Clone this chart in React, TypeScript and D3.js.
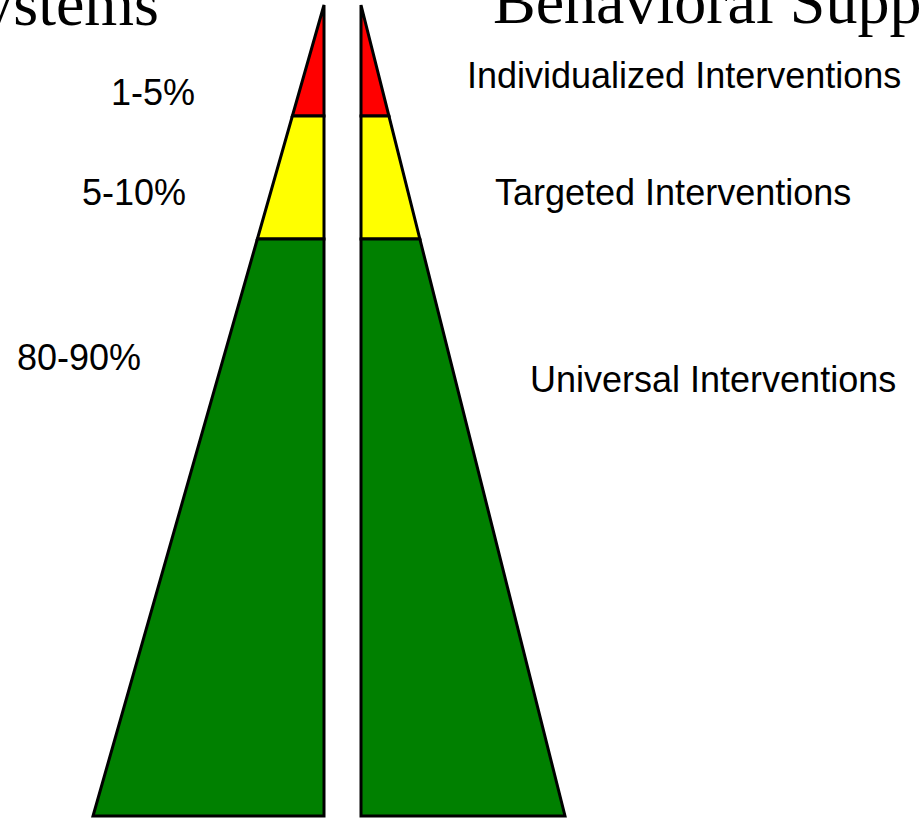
import { scaleLinear, line } from "d3";

const width = 919;
const height = 818;

// tiers from the top of the pyramid down
const tiers = ["Individualized", "Targeted", "Universal"];
const tierColors = ["#ff0000", "#ffff00", "#008000"];
// cumulative depth (0 = apex, 1 = base) at the bottom of each tier
const tierBottoms = [0.137, 0.2885, 1];
const percentLabels = ["1-5%", "5-10%", "80-90%"];
const interventionLabels = [
  "Individualized Interventions",
  "Targeted Interventions",
  "Universal Interventions",
];

const yScale = scaleLinear().domain([0, 1]).range([5, 816]);
// half-widths of the two halves
const leftWidth = scaleLinear().domain([0, 1]).range([0, 231]);
const rightWidth = scaleLinear().domain([0, 1]).range([0, 204]);

const leftEdge = 324;
const rightEdge = 361;

const poly = line<[number, number]>();

const trapezoid = (top: number, bottom: number, side: "left" | "right") => {
  const w = side === "left" ? leftWidth : rightWidth;
  const x0 = side === "left" ? leftEdge : rightEdge;
  const dir = side === "left" ? -1 : 1;
  const pts: [number, number][] = [
    [x0, yScale(top)],
    [x0 + dir * w(top), yScale(top)],
    [x0 + dir * w(bottom), yScale(bottom)],
    [x0, yScale(bottom)],
  ];
  return poly(pts) + "Z";
};

const percentPos = [
  { x: 111, y: 105 },
  { x: 82, y: 205 },
  { x: 17, y: 370 },
];
const labelPos = [
  { x: 467, y: 88 },
  { x: 495, y: 205 },
  { x: 530, y: 392 },
];

const App = () => {
  const tops = [0, ...tierBottoms.slice(0, -1)];
  return (
    <svg
      width={width}
      height={height}
      style={{ position: "fixed", left: 0, top: 0, background: "#fff" }}
    >
      <rect width={width} height={height} fill="#fff" />
      {tiers.map((t, i) => (
        <g key={t}>
          <path
            d={trapezoid(tops[i], tierBottoms[i], "left")}
            fill={tierColors[i]}
            stroke="#000"
            strokeWidth={3}
          />
          <path
            d={trapezoid(tops[i], tierBottoms[i], "right")}
            fill={tierColors[i]}
            stroke="#000"
            strokeWidth={3}
          />
        </g>
      ))}
      <g fontFamily="Liberation Serif, Times New Roman, serif" fontSize={64}>
        <text x={159} y={25} textAnchor="end">
          ystems
        </text>
        <text x={493} y={23}>
          Behavioral Supp
        </text>
      </g>
      <g fontFamily="Liberation Sans, Arial, sans-serif" fontSize={36}>
        {percentLabels.map((p, i) => (
          <text key={p} x={percentPos[i].x} y={percentPos[i].y}>
            {p}
          </text>
        ))}
        {interventionLabels.map((l, i) => (
          <text key={l} x={labelPos[i].x} y={labelPos[i].y}>
            {l}
          </text>
        ))}
      </g>
    </svg>
  );
};

export default App;
